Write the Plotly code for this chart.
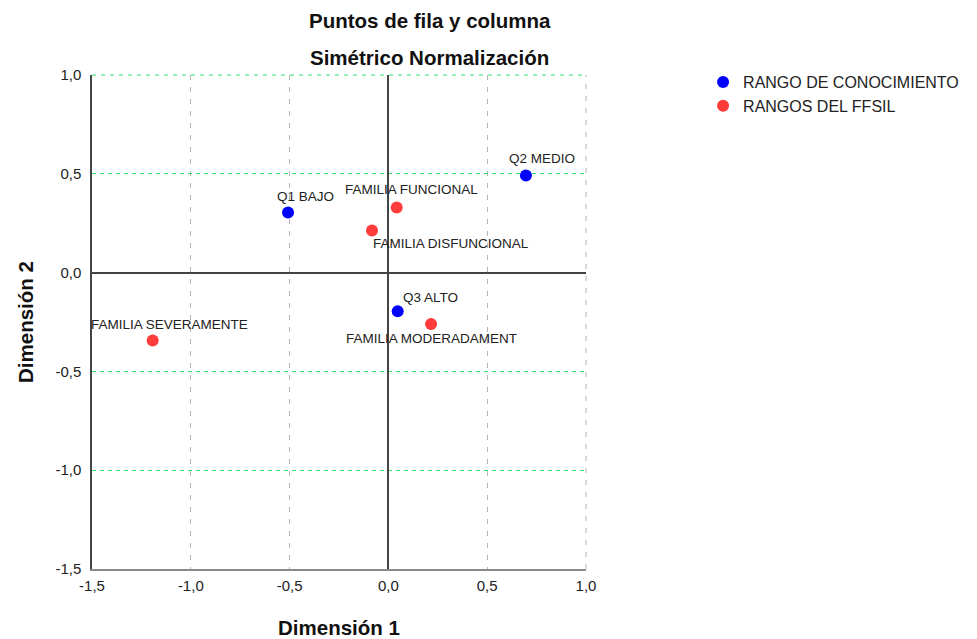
import plotly.graph_objects as go

# Data
row_labels = ["Q1 BAJO", "Q2 MEDIO", "Q3 ALTO"]
row_x = [-0.508, 0.696, 0.047]
row_y = [0.304, 0.491, -0.196]

col_labels = ["FAMILIA FUNCIONAL", "FAMILIA DISFUNCIONAL", "FAMILIA MODERADAMENT", "FAMILIA SEVERAMENTE"]
col_x = [0.042, -0.083, 0.216, -1.193]
col_y = [0.33, 0.213, -0.26, -0.344]

series_names = ["RANGO DE CONOCIMIENTO", "RANGOS DEL FFSIL"]
tick_vals = [-1.5, -1.0, -0.5, 0.0, 0.5, 1.0]
tick_text = ["-1,5", "-1,0", "-0,5", "0,0", "0,5", "1,0"]

# label offsets (pixels): (xshift, yshift)
row_shifts = [(17, 16), (16, 17), (33, 14)]
col_shifts = [(15, 18), (79, -13), (0, -15), (17, 16)]

FONT = "Liberation Sans, Arial, sans-serif"
BLUE = "#0000ff"
RED = "#ff3b3b"
GRID_X = "#b4b4b4"
GRID_Y = "#2ee06a"

fig = go.Figure()
fig.add_trace(go.Scatter(x=row_x, y=row_y, mode="markers", name=series_names[0],
                         marker=dict(color=BLUE, size=12), cliponaxis=False))
fig.add_trace(go.Scatter(x=col_x, y=col_y, mode="markers", name=series_names[1],
                         marker=dict(color=RED, size=12), cliponaxis=False))

anns = []
for lab, x, y, (dx, dy) in zip(row_labels + col_labels, row_x + col_x, row_y + col_y, row_shifts + col_shifts):
    anns.append(dict(x=x, y=y, xref="x", yref="y", text=lab, showarrow=False, xanchor="center",
                     xshift=dx, yshift=dy, font=dict(family=FONT, size=13.5, color="#222222")))

anns.append(dict(x=0.684, y=1.0, xref="paper", yref="paper", xanchor="center", yanchor="middle", yshift=55,
                 text="<b>Puntos de fila y columna</b>", showarrow=False,
                 font=dict(family=FONT, size=20.5, color="#111111")))
anns.append(dict(x=0.684, y=1.0, xref="paper", yref="paper", xanchor="center", yanchor="middle", yshift=18,
                 text="<b>Simétrico Normalización</b>", showarrow=False,
                 font=dict(family=FONT, size=20.5, color="#111111")))
anns.append(dict(x=0.5, y=0.0, xref="paper", yref="paper", xanchor="center", yanchor="middle", yshift=-58,
                 text="<b>Dimensión 1</b>", showarrow=False,
                 font=dict(family=FONT, size=20.5, color="#111111")))
anns.append(dict(x=0.0, y=0.5, xref="paper", yref="paper", xanchor="center", yanchor="middle",
                 xshift=-67, textangle=-90,
                 text="<b>Dimensión 2</b>", showarrow=False,
                 font=dict(family=FONT, size=20.5, color="#111111")))

# frame edge lines (top: green dashed, right: gray dashed), as in the original
shapes = [
    dict(type="line", xref="paper", yref="paper", x0=0, x1=1, y0=1, y1=1,
         line=dict(color=GRID_Y, width=1, dash="4px,5px"), layer="below"),
    dict(type="line", xref="paper", yref="paper", x0=1, x1=1, y0=0, y1=1,
         line=dict(color=GRID_X, width=1, dash="5px,7px"), layer="below"),
]

fig.update_layout(
    width=977, height=639,
    margin=dict(l=84, r=399, t=67, b=78, autoexpand=False),
    paper_bgcolor="white", plot_bgcolor="white",
    font=dict(family=FONT, size=15, color="#222222"),
    showlegend=True,
    legend=dict(x=1.237, y=1.02, xanchor="left", yanchor="top", bgcolor="rgba(0,0,0,0)",
                font=dict(family=FONT, size=16, color="#222222"),
                itemsizing="constant", tracegroupgap=0),
    annotations=anns,
    shapes=shapes,
)
fig.update_xaxes(
    range=[-1.5, 1.0], tickvals=tick_vals, ticktext=tick_text,
    showgrid=True, gridcolor=GRID_X, griddash="5px,7px", gridwidth=1,
    zeroline=True, zerolinecolor="#444444", zerolinewidth=1.5,
    showline=True, linecolor="#8a8a8a", linewidth=1.5,
    ticks="", ticklabelstandoff=2, automargin=False,
    tickfont=dict(family=FONT, size=15, color="#222222"),
)
fig.update_yaxes(
    range=[-1.5, 1.0], tickvals=tick_vals, ticktext=tick_text,
    showgrid=True, gridcolor=GRID_Y, griddash="4px,4px", gridwidth=1,
    zeroline=True, zerolinecolor="#444444", zerolinewidth=1.5,
    showline=True, linecolor="#444444", linewidth=1.5,
    ticks="", ticklabelstandoff=6, automargin=False,
    tickfont=dict(family=FONT, size=15, color="#222222"),
)

fig.write_html("out.html")
